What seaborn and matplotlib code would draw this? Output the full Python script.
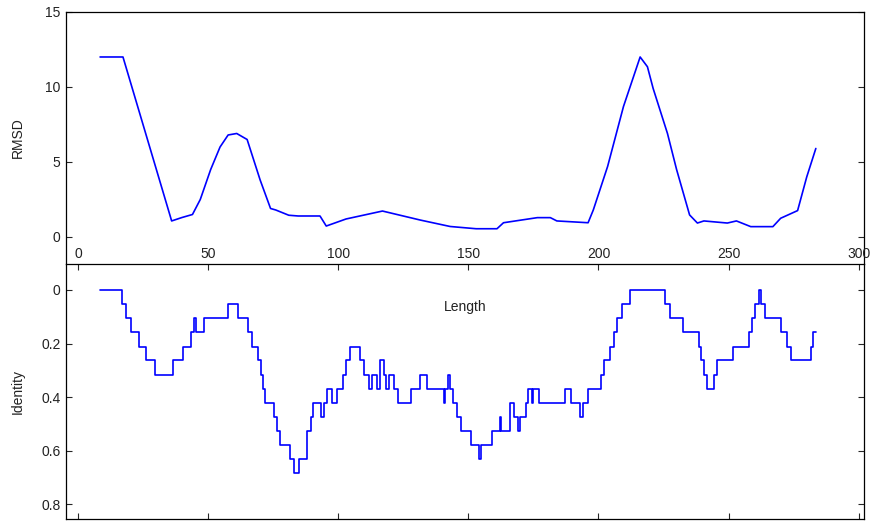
import seaborn as sns
import numpy as np
import pandas as pd
import matplotlib
matplotlib.use('Agg')
import matplotlib.pyplot as plt
import matplotlib.transforms as mtransforms

# RMSD profile along the alignment
rmsd_x = [8.5, 17.3, 36, 40, 44, 47, 51, 54.6, 57.7, 61, 65, 70, 74, 76, 81, 84.6,
          93, 95.4, 103, 117, 131.5, 143, 153, 161, 163.5, 176.5, 181.5, 184, 196,
          198, 203.5, 209.6, 216, 218.8, 221, 226.5, 230, 235, 238, 240.5, 249.5,
          253, 258.5, 267, 270, 276.5, 280, 283.5]
rmsd_y = [12.0, 12.0, 1.07, 1.3, 1.5, 2.5, 4.5, 6.0, 6.8, 6.9, 6.5, 3.8, 1.9, 1.8,
          1.45, 1.4, 1.4, 0.73, 1.2, 1.73, 1.13, 0.7, 0.55, 0.55, 0.95, 1.29, 1.29,
          1.07, 0.95, 1.8, 4.7, 8.7, 12.0, 11.35, 9.9, 6.9, 4.5, 1.47, 0.93, 1.07,
          0.93, 1.07, 0.69, 0.69, 1.25, 1.76, 4.0, 5.9]

# Identity profile (step values, each holds until the next x)
ident_x = [8.5, 17, 18.5, 20.5, 23.5, 26, 29.5, 36.5, 40.5, 43.5, 44.5, 45.5, 48.5,
           57.5, 61.5, 65.5, 67, 69, 70.5, 71, 72, 75.5, 76.5, 77.5, 81.5, 83, 85,
           88, 89.5, 90.5, 93.5, 94.5, 95.5, 97.5, 99.5, 102, 103, 104.5, 108.5,
           110, 112, 113, 115, 116, 117.5, 118.5, 119.5, 121.5, 123, 128, 131.5,
           134, 140.5, 141, 142, 143, 144, 145.5, 147, 151, 154, 155, 159, 162,
           162.7, 166, 167.4, 169, 170, 172, 173, 174.5, 175, 177, 187, 189.5, 193,
           194, 196, 201, 202, 204.5, 206, 207, 209, 212, 225.5, 227.5, 232.5,
           238.5, 239.5, 240.5, 241.5, 244.5, 245.5, 251.5, 258, 259, 260, 261.5,
           262.5, 264, 270, 272.5, 274, 281.5, 282.5, 283.5]
ident_y = [0.0, 0.053, 0.105, 0.158, 0.211, 0.263, 0.316, 0.263, 0.211, 0.158, 0.105,
           0.158, 0.105, 0.053, 0.105, 0.158, 0.211, 0.263, 0.316, 0.368, 0.421,
           0.474, 0.526, 0.579, 0.632, 0.684, 0.632, 0.526, 0.474, 0.421, 0.474,
           0.421, 0.368, 0.421, 0.368, 0.316, 0.263, 0.211, 0.263, 0.316, 0.368,
           0.316, 0.368, 0.263, 0.316, 0.368, 0.316, 0.368, 0.421, 0.368, 0.316,
           0.368, 0.421, 0.368, 0.316, 0.368, 0.421, 0.474, 0.526, 0.579, 0.632,
           0.579, 0.526, 0.474, 0.526, 0.421, 0.474, 0.526, 0.474, 0.421, 0.368,
           0.421, 0.368, 0.421, 0.368, 0.421, 0.474, 0.421, 0.368, 0.316, 0.263,
           0.211, 0.158, 0.105, 0.053, 0.0, 0.053, 0.105, 0.158, 0.211, 0.263,
           0.316, 0.368, 0.316, 0.263, 0.211, 0.158, 0.105, 0.053, 0.0, 0.053,
           0.105, 0.158, 0.211, 0.263, 0.211, 0.158, 0.158]

x_ticks = [0, 50, 100, 150, 200, 250, 300]
rmsd_ticks = [0, 5, 10, 15]
ident_ticks = [0, 0.2, 0.4, 0.6, 0.8]

sns.set_style('ticks')
plt.rcParams['font.family'] = ['Liberation Sans', 'DejaVu Sans']

fig = plt.figure(figsize=(8.75, 5.21), dpi=100)
ax1 = fig.add_axes([0.0754, 0.4933, 0.912, 0.4837])
ax2 = fig.add_axes([0.0754, 0.0038, 0.912, 0.4895])

txt_col = '#222222'
line_col = '#0000ff'

rd = pd.DataFrame({'x': rmsd_x, 'y': rmsd_y})
sns.lineplot(data=rd, x='x', y='y', ax=ax1, color=line_col, linewidth=1.2,
             estimator=None, sort=False)
idf = pd.DataFrame({'x': ident_x, 'y': ident_y})
sns.lineplot(data=idf, x='x', y='y', ax=ax2, color=line_col, linewidth=1.2,
             estimator=None, sort=False, drawstyle='steps-post')

for ax in (ax1, ax2):
    ax.set_xlim(-4.6, 302)
    for s in ax.spines.values():
        s.set_visible(True)
        s.set_linewidth(0.9)
        s.set_color('black')

# top panel
ax1.set_ylim(-1.8, 15)
ax1.set_yticks(rmsd_ticks)
ax1.set_xticks([])
ax1.spines['bottom'].set_visible(False)
ax1.tick_params(axis='y', direction='in', left=True, right=True, length=4,
                labelsize=10, labelcolor=txt_col, pad=4)
ax1.set_xlabel('')
ax1.set_ylabel('RMSD', fontsize=10, color=txt_col)
ax1.yaxis.set_label_coords(-0.052, 0.5)

# bottom panel
ax2.set_ylim(0.855, -0.097)
ax2.set_yticks(ident_ticks)
ax2.set_yticklabels(['0', '0.2', '0.4', '0.6', '0.8'])
ax2.set_xticks(x_ticks)
ax2.tick_params(axis='y', direction='in', left=True, right=True, length=4,
                labelsize=10, labelcolor=txt_col, pad=4)
ax2.tick_params(axis='x', direction='in', top=True, bottom=True, labeltop=True,
                labelbottom=False, length=4, labelsize=10, labelcolor=txt_col, pad=2)
ax2.set_xlabel('')
ax2.set_ylabel('Identity', fontsize=10, color=txt_col)
ax2.yaxis.set_label_coords(-0.052, 0.5)

trans = mtransforms.blended_transform_factory(ax2.transData, ax2.transAxes)
ax2.text(148.8, 0.83, 'Length', transform=trans, ha='center', va='center',
         fontsize=10, color=txt_col)

fig.savefig('out.png', dpi=100)
